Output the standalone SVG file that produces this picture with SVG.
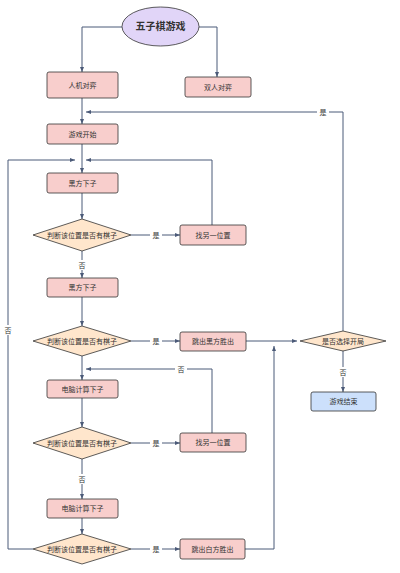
<svg xmlns="http://www.w3.org/2000/svg" width="400" height="573" viewBox="0 0 400 573">
<style>
text{font-family:"Liberation Sans","Noto Sans CJK SC",sans-serif;font-size:7px;fill:#333;text-anchor:middle;dominant-baseline:central}
.box{fill:#f8cecc;stroke:#333;stroke-width:0.8}
.dia{fill:#ffe6cc;stroke:#333;stroke-width:0.8}
.end{fill:#cce0fb;stroke:#333;stroke-width:0.8}
.e{fill:none;stroke:#4b5a78;stroke-width:1;marker-end:url(#a)}
.n{fill:none;stroke:#4b5a78;stroke-width:1}
.lb{fill:#fff}
</style>
<defs>
<marker id="a" viewBox="0 0 10 10" refX="10" refY="5" markerWidth="5" markerHeight="5" orient="auto" markerUnits="userSpaceOnUse"><path d="M0,1 L10,5 L0,9 Z" fill="#4b5a78"/></marker>
</defs>
<rect width="400" height="573" fill="#fff"/>
<g id="connectors">
<path class="e" d="M122,27 H82 V72"/>
<path class="e" d="M199,27 H217 V77"/>
<path class="e" d="M82,98 V124"/>
<path class="e" d="M82,144 V173"/>
<path class="e" d="M82,193 V219"/>
<path class="e" d="M131,235 H180"/>
<path class="e" d="M212,225 V160 H86"/>
<path class="e" d="M82,251 V278"/>
<path class="e" d="M82,297 V326"/>
<path class="e" d="M131,341 H180"/>
<path class="e" d="M246,341 H297"/>
<path class="e" d="M343,331 V112 H86"/>
<path class="e" d="M343,350 V392"/>
<path class="e" d="M82,356 V380"/>
<path class="e" d="M82,398 V427"/>
<path class="e" d="M131,443 H180"/>
<path class="e" d="M212,433 V369 H86"/>
<path class="e" d="M82,459 V499"/>
<path class="e" d="M82,518 V534"/>
<path class="e" d="M131,549 H180"/>
<path class="e" d="M33,549 H8 V160 H75"/>
<path class="e" d="M245,549 H274 V346"/>
<rect class="lb" x="150" y="230" width="12" height="10"/><text x="156" y="235">是</text>
<rect class="lb" x="150" y="336" width="12" height="10"/><text x="156" y="341">是</text>
<rect class="lb" x="150" y="438" width="12" height="10"/><text x="156" y="443">是</text>
<rect class="lb" x="150" y="544" width="12" height="10"/><text x="156" y="549">是</text>
<rect class="lb" x="317" y="107" width="12" height="10"/><text x="323" y="112">是</text>
<rect class="lb" x="76" y="260" width="12" height="10"/><text x="82" y="265">否</text>
<rect class="lb" x="76" y="474" width="12" height="10"/><text x="82" y="479">否</text>
<rect class="lb" x="337" y="367" width="12" height="10"/><text x="343" y="372">否</text>
<rect class="lb" x="175" y="364" width="12" height="10"/><text x="181" y="369">否</text>
<rect class="lb" x="2" y="325" width="12" height="10"/><text x="8" y="330">否</text>
</g>
<g id="start"><ellipse cx="160.5" cy="26.5" rx="38.5" ry="19.5" fill="#e1d5f8" stroke="#333" stroke-width="0.8"/><text x="160.5" y="26.5" style="font-size:10px;font-weight:bold">五子棋游戏</text></g>
<g id="pve"><rect class="box" x="47" y="72" width="71" height="26" rx="2"/><text x="82.5" y="85">人机对弈</text></g>
<g id="pvp"><rect class="box" x="185" y="77" width="66" height="20" rx="2"/><text x="218" y="87">双人对弈</text></g>
<g id="gamestart"><rect class="box" x="47" y="124" width="71" height="20" rx="2"/><text x="82.5" y="134">游戏开始</text></g>
<g id="black1"><rect class="box" x="47" y="173" width="71" height="20" rx="2"/><text x="82.5" y="183">黑方下子</text></g>
<g id="d1"><path class="dia" d="M82,219 L131,235 L82,251 L33,235 Z"/><text x="82" y="235">判断该位置是否有棋子</text></g>
<g id="find1"><rect class="box" x="180" y="225" width="66" height="20" rx="2"/><text x="213" y="235">找另一位置</text></g>
<g id="black2"><rect class="box" x="47" y="278" width="71" height="19" rx="2"/><text x="82.5" y="287.5">黑方下子</text></g>
<g id="d2"><path class="dia" d="M82,326 L131,341 L82,356 L33,341 Z"/><text x="82" y="341">判断该位置是否有棋子</text></g>
<g id="blackwin"><rect class="box" x="180" y="332" width="66" height="19" rx="2"/><text x="213" y="341.5">跳出黑方胜出</text></g>
<g id="again"><path class="dia" d="M343,331 L386,341 L343,351 L300,341 Z"/><text x="343" y="341">是否选择开局</text></g>
<g id="gameend"><rect class="end" x="311" y="392" width="65" height="19" rx="2"/><text x="343.5" y="401.5">游戏结束</text></g>
<g id="pc1"><rect class="box" x="47" y="380" width="71" height="18" rx="2"/><text x="82.5" y="389">电脑计算下子</text></g>
<g id="d3"><path class="dia" d="M82,427 L131,443 L82,459 L33,443 Z"/><text x="82" y="443">判断该位置是否有棋子</text></g>
<g id="find2"><rect class="box" x="180" y="433" width="66" height="19" rx="2"/><text x="213" y="442.5">找另一位置</text></g>
<g id="pc2"><rect class="box" x="47" y="499" width="71" height="19" rx="2"/><text x="82.5" y="508.5">电脑计算下子</text></g>
<g id="d4"><path class="dia" d="M82,534 L131,549 L82,564 L33,549 Z"/><text x="82" y="549">判断该位置是否有棋子</text></g>
<g id="whitewin"><rect class="box" x="180" y="539" width="65" height="20" rx="2"/><text x="212.5" y="549">跳出白方胜出</text></g>
</svg>
